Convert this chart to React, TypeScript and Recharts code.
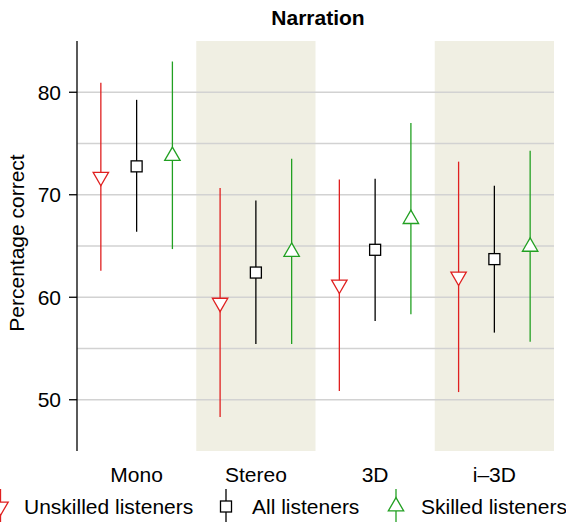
import {
  ComposedChart,
  Scatter,
  ErrorBar,
  XAxis,
  YAxis,
  ReferenceArea,
  ReferenceLine,
} from 'recharts';

const categories = ['Mono', 'Stereo', '3D', 'i–3D'];

const unskilledMean = [71.75, 59.47, 61.23, 62.01];
const unskilledLow = [62.58, 48.32, 50.85, 50.75];
const unskilledHigh = [80.92, 70.66, 71.5, 73.23];

const allMean = [72.77, 62.41, 64.63, 63.72];
const allLow = [66.39, 55.44, 57.69, 56.55];
const allHigh = [79.26, 69.45, 71.57, 70.88];

const skilledMean = [73.78, 64.43, 67.63, 64.92];
const skilledLow = [64.7, 55.44, 58.34, 55.67];
const skilledHigh = [83.0, 73.52, 77.01, 74.3];

const yTicks = [50, 60, 70, 80];
const gridValues = [50, 55, 60, 65, 70, 75, 80];
const shadedCategories = [1, 3];

const FONT = '"Liberation Sans", Arial, Helvetica, sans-serif';
const RED = '#e02020';
const BLACK = '#000000';
const GREEN = '#22a022';
const BAND = '#f0efe3';
const LW = 1.3;

type Row = { x: number; y: number; err: [number, number] };

function buildRows(mean: number[], low: number[], high: number[], offset: number): Row[] {
  return mean.map((m, i) => ({
    x: i + 0.5 + offset,
    y: m,
    err: [m - low[i], high[i] - m],
  }));
}

const unskilledRows = buildRows(unskilledMean, unskilledLow, unskilledHigh, -0.3);
const allRows = buildRows(allMean, allLow, allHigh, 0);
const skilledRows = buildRows(skilledMean, skilledLow, skilledHigh, 0.3);

const R = 8.9;
const XC = R * 0.866;

function triUp(cx: number, cy: number) {
  return `M${cx},${cy - R}L${cx + XC},${cy + R / 2}L${cx - XC},${cy + R / 2}Z`;
}
function triDown(cx: number, cy: number) {
  return `M${cx},${cy + R}L${cx + XC},${cy - R / 2}L${cx - XC},${cy - R / 2}Z`;
}

function Marker({ kind, cx, cy }: { kind: string; cx: number; cy: number }) {
  if (kind === 'down')
    return <path d={triDown(cx, cy)} fill="#fff" stroke={RED} strokeWidth={LW} />;
  if (kind === 'up')
    return <path d={triUp(cx, cy)} fill="#fff" stroke={GREEN} strokeWidth={LW} />;
  return (
    <rect x={cx - 5.5} y={cy - 5.5} width={11} height={11} fill="#fff" stroke={BLACK} strokeWidth={LW} />
  );
}

const noShape = () => <g />;

export default function App() {
  const series = [
    { rows: unskilledRows, color: RED, kind: 'down', name: 'Unskilled listeners' },
    { rows: allRows, color: BLACK, kind: 'square', name: 'All listeners' },
    { rows: skilledRows, color: GREEN, kind: 'up', name: 'Skilled listeners' },
  ];
  const legendPos = [
    { sx: 0.5, tx: 24 },
    { sx: 226, tx: 252 },
    { sx: 396, tx: 421 },
  ];

  return (
    <div
      style={{
        position: 'absolute',
        left: 0,
        top: 0,
        width: 566,
        height: 522,
        background: '#fff',
        fontFamily: FONT,
        overflow: 'hidden',
      }}
    >
      <ComposedChart width={566} height={522} margin={{ top: 41, right: 12, bottom: 41, left: 0 }}>
        <XAxis
          type="number"
          dataKey="x"
          domain={[0, 4]}
          ticks={[0.5, 1.5, 2.5, 3.5]}
          interval={0}
          tickFormatter={(v: number) => categories[Math.floor(v)]}
          axisLine={false}
          tickLine={false}
          tickSize={0}
          tickMargin={16}
          height={30}
          tick={{ fill: '#000', fontSize: 21, fontFamily: FONT }}
        />
        <YAxis
          type="number"
          dataKey="y"
          domain={[45, 85]}
          ticks={yTicks}
          interval={0}
          width={77}
          tickSize={8}
          tickMargin={8}
          axisLine={{ stroke: '#000', strokeWidth: LW }}
          tickLine={{ stroke: '#000', strokeWidth: LW }}
          tick={{ fill: '#000', fontSize: 21, fontFamily: FONT }}
          label={{
            content: () => (
              <text
                x={23.5}
                y={243}
                transform="rotate(-90, 23.5, 243)"
                textAnchor="middle"
                fontSize={21}
                fontFamily={FONT}
                fill="#000"
              >
                Percentage correct
              </text>
            ),
          }}
        />
        {shadedCategories.map((c) => (
          <ReferenceArea key={c} x1={c} x2={c + 1} y1={45} y2={85} fill={BAND} fillOpacity={1} stroke="none" />
        ))}
        {gridValues.map((g) => (
          <ReferenceLine key={g} y={g} stroke="#d2d2d2" strokeWidth={LW} />
        ))}
        {series.map((s) => (
          <Scatter
            key={s.name + '-err'}
            data={s.rows}
            dataKey="y"
            shape={noShape}
            isAnimationActive={false}
          >
            <ErrorBar dataKey="err" direction="y" width={0} stroke={s.color} strokeWidth={LW} isAnimationActive={false} />
          </Scatter>
        ))}
        {series.map((s) => (
          <Scatter
            key={s.name}
            data={s.rows}
            dataKey="y"
            isAnimationActive={false}
            shape={(p: any) => <Marker kind={s.kind} cx={p.cx} cy={p.cy} />}
          />
        ))}
      </ComposedChart>

      <svg
        width={566}
        height={522}
        style={{ position: 'absolute', left: 0, top: 0, pointerEvents: 'none' }}
      >
        <text x={318} y={25} textAnchor="middle" fontSize={21} fontWeight="bold" fontFamily={FONT} fill="#000">
          Narration
        </text>
        {series.map((s, i) => (
          <g key={s.name}>
            <line
              x1={legendPos[i].sx}
              x2={legendPos[i].sx}
              y1={489}
              y2={524}
              stroke={s.color}
              strokeWidth={LW}
            />
            <Marker kind={s.kind} cx={legendPos[i].sx} cy={506.5} />
            <text x={legendPos[i].tx} y={513.5} fontSize={21} fontFamily={FONT} fill="#000">
              {s.name}
            </text>
          </g>
        ))}
      </svg>
    </div>
  );
}
